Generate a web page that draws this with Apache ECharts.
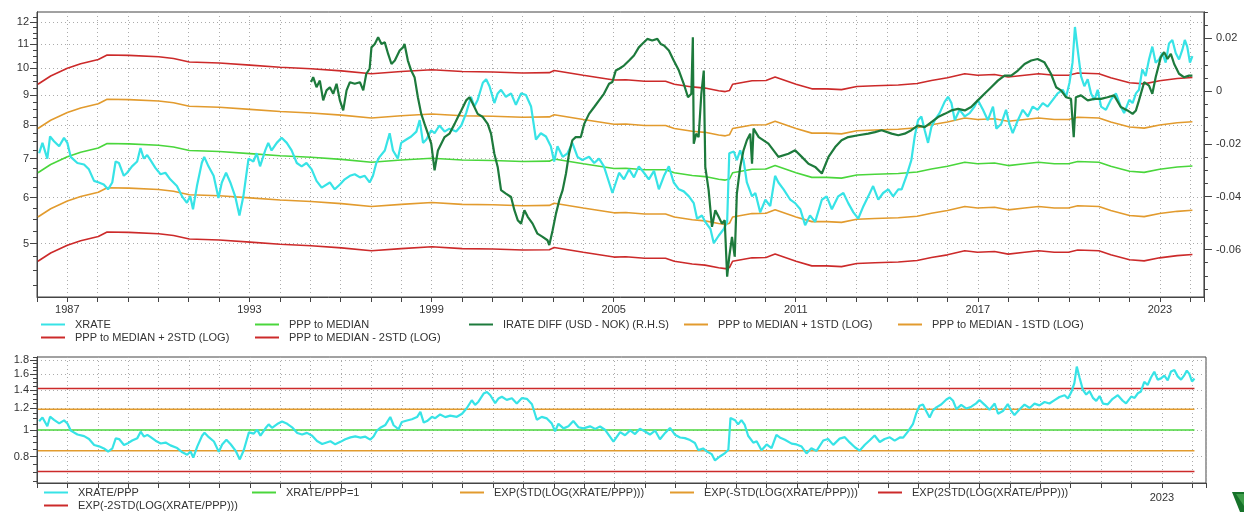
<!DOCTYPE html>
<html>
<head>
<meta charset="utf-8">
<script src="https://cdn.jsdelivr.net/npm/echarts@6/dist/echarts.min.js"></script>
<style>
  html, body { margin: 0; padding: 0; background: #fff; }
  #chart { width: 1244px; height: 512px; }
</style>
</head>
<body>
<div id="chart"></div>
<script>
// USD/NOK spot rate, [decimal year, NOK per USD]
const xrate = [
  [1986.07,7.15],[1986.18,7.45],[1986.34,7.0],[1986.43,7.64],[1986.56,7.5],[1986.73,7.35],[1986.89,7.6],[1987.0,7.45],
  [1987.11,7.05],[1987.33,6.88],[1987.55,6.84],[1987.71,6.71],[1987.88,6.41],[1988.04,6.37],[1988.2,6.32],[1988.34,6.2],
  [1988.48,6.37],[1988.59,6.92],[1988.7,6.88],[1988.86,6.54],[1988.97,6.62],[1989.13,6.79],[1989.3,6.92],[1989.41,7.3],
  [1989.52,7.0],[1989.63,7.1],[1989.74,6.96],[1989.9,6.75],[1990.07,6.58],[1990.23,6.62],[1990.39,6.45],[1990.61,6.28],
  [1990.78,6.03],[1990.94,5.88],[1991.05,6.03],[1991.14,5.73],[1991.27,6.28],[1991.43,6.88],[1991.51,7.05],[1991.65,6.79],
  [1991.82,6.54],[1991.98,5.99],[1992.09,6.37],[1992.23,6.62],[1992.37,6.37],[1992.53,6.03],[1992.67,5.59],[1992.8,6.03],
  [1992.97,7.0],[1993.13,6.92],[1993.24,7.15],[1993.35,6.79],[1993.52,7.23],[1993.62,7.45],[1993.73,7.23],[1993.9,7.45],
  [1994.06,7.6],[1994.23,7.45],[1994.39,7.23],[1994.56,6.88],[1994.72,6.79],[1994.88,6.88],[1995.05,6.71],[1995.21,6.41],
  [1995.38,6.24],[1995.65,6.37],[1995.81,6.2],[1995.98,6.32],[1996.14,6.45],[1996.31,6.54],[1996.47,6.58],[1996.64,6.5],
  [1996.8,6.54],[1996.96,6.37],[1997.07,6.54],[1997.18,6.88],[1997.29,7.05],[1997.46,7.23],[1997.62,7.74],[1997.73,7.23],
  [1997.89,7.0],[1998.0,7.45],[1998.17,7.55],[1998.33,7.64],[1998.5,7.79],[1998.61,8.15],[1998.72,7.45],[1998.83,7.55],
  [1998.99,7.83],[1999.1,7.74],[1999.26,7.98],[1999.43,7.79],[1999.59,7.88],[1999.81,7.79],[1999.98,7.98],[2000.14,8.38],
  [2000.3,8.94],[2000.41,8.6],[2000.52,8.83],[2000.69,9.45],[2000.8,9.58],[2000.91,9.32],[2001.07,8.72],[2001.18,9.06],
  [2001.29,9.19],[2001.45,8.94],[2001.62,9.06],[2001.78,8.66],[2001.95,9.06],[2002.11,9.0],[2002.28,8.6],[2002.44,7.55],
  [2002.6,7.74],[2002.77,7.64],[2002.93,7.35],[2003.04,6.92],[2003.15,7.35],[2003.32,7.05],[2003.48,7.15],[2003.64,7.45],
  [2003.81,7.05],[2003.97,6.96],[2004.19,7.05],[2004.36,6.88],[2004.52,7.0],[2004.68,6.79],[2004.85,6.37],[2004.96,6.11],
  [2005.18,6.62],[2005.34,6.45],[2005.51,6.71],[2005.67,6.5],[2005.83,6.79],[2006.0,6.62],[2006.16,6.45],[2006.33,6.67],
  [2006.49,6.2],[2006.66,6.54],[2006.82,6.79],[2006.98,6.37],[2007.15,6.2],[2007.31,6.15],[2007.48,6.03],[2007.64,5.87],
  [2007.75,5.52],[2007.91,5.59],[2008.02,5.45],[2008.19,5.3],[2008.3,5.01],[2008.46,5.16],[2008.63,5.3],[2008.74,5.45],
  [2008.81,7.15],[2008.96,7.2],[2009.06,6.96],[2009.17,7.23],[2009.28,6.96],[2009.39,6.37],[2009.56,6.03],[2009.67,6.11],
  [2009.83,5.66],[2010.0,5.95],[2010.16,5.8],[2010.32,6.54],[2010.43,6.37],[2010.6,6.2],[2010.82,5.95],[2010.98,5.87],
  [2011.15,5.73],[2011.31,5.38],[2011.47,5.59],[2011.64,5.45],[2011.86,5.95],[2012.02,6.03],[2012.19,5.73],[2012.4,6.03],
  [2012.57,6.11],[2012.73,5.87],[2012.9,5.66],[2013.06,5.52],[2013.23,5.8],[2013.39,6.03],[2013.55,6.28],[2013.72,5.95],
  [2013.88,6.11],[2014.05,6.2],[2014.21,6.03],[2014.38,6.2],[2014.49,6.2],[2014.65,6.54],[2014.81,6.96],[2014.92,7.64],
  [2015.03,8.15],[2015.14,8.27],[2015.25,7.83],[2015.36,7.45],[2015.47,7.93],[2015.58,8.15],[2015.74,8.38],[2015.91,8.77],
  [2016.02,8.94],[2016.13,8.72],[2016.24,8.15],[2016.4,8.49],[2016.57,8.27],[2016.73,8.38],[2016.89,8.6],[2017.0,8.83],
  [2017.17,8.49],[2017.33,8.15],[2017.5,8.6],[2017.61,7.88],[2017.77,8.03],[2017.93,8.49],[2018.04,8.03],[2018.15,7.74],
  [2018.32,8.15],[2018.48,8.49],[2018.65,8.27],[2018.81,8.6],[2018.97,8.49],[2019.14,8.72],[2019.3,8.6],[2019.47,8.83],
  [2019.63,9.06],[2019.8,9.19],[2019.91,8.94],[2020.02,9.45],[2020.12,10.23],[2020.2,11.78],[2020.29,10.77],[2020.4,9.7],
  [2020.51,9.32],[2020.62,9.58],[2020.73,9.06],[2020.84,8.83],[2020.95,9.19],[2021.06,8.6],[2021.22,8.49],[2021.38,8.83],
  [2021.55,9.06],[2021.71,8.6],[2021.82,8.38],[2021.99,8.83],[2022.1,8.72],[2022.21,9.06],[2022.31,9.19],[2022.42,9.96],
  [2022.53,9.7],[2022.64,10.36],[2022.75,10.9],[2022.86,10.23],[2022.97,10.36],[2023.08,10.63],[2023.19,10.23],[2023.3,11.04],
  [2023.41,11.19],[2023.52,10.63],[2023.63,10.36],[2023.74,10.77],[2023.82,11.19],[2023.9,10.9],[2023.99,10.23],[2024.07,10.5]
];

// PPP-implied rate (median), [decimal year, NOK per USD]
const ppp = [
  [1986.03,6.62],[1986.45,6.84],[1987.0,7.05],[1987.44,7.18],[1988.02,7.30],[1988.31,7.43],[1989.03,7.42],[1990.01,7.38],
  [1990.5,7.33],[1991.02,7.23],[1992.01,7.2],[1993.02,7.14],[1994.01,7.08],[1995.03,7.04],[1996.03,6.98],[1997.02,6.9],
  [1998.0,6.96],[1999.01,7.01],[2000.01,6.96],[2001.02,6.95],[2002.0,6.92],[2002.88,6.93],[2003.04,6.99],[2004.0,6.86],
  [2005.01,6.73],[2005.4,6.74],[2006.02,6.7],[2006.71,6.7],[2007.0,6.62],[2007.59,6.55],[2008.01,6.52],[2008.46,6.45],
  [2008.68,6.43],[2008.82,6.46],[2008.92,6.62],[2009.56,6.71],[2010.02,6.72],[2010.32,6.81],[2011.01,6.62],[2011.53,6.5],
  [2012.02,6.5],[2012.51,6.48],[2013.01,6.56],[2013.61,6.58],[2014.38,6.6],[2015.0,6.64],[2015.47,6.72],[2016.0,6.79],
  [2016.57,6.9],[2016.99,6.86],[2017.55,6.88],[2018.0,6.81],[2018.54,6.86],[2019.0,6.9],[2019.52,6.86],[2019.99,6.86],
  [2020.29,6.92],[2020.99,6.9],[2021.38,6.79],[2022.0,6.66],[2022.48,6.63],[2022.99,6.71],[2023.57,6.77],[2024.07,6.8]
];

// Short-rate differential USD minus NOK, [decimal year, fraction] (right-hand scale)
const irateDiff = [
  [1995.03,0.0034],[1995.1,0.0053],[1995.21,0.0015],[1995.32,0.004],[1995.43,-0.0035],[1995.54,0.0003],[1995.65,0.0015],
  [1995.76,-0.001],[1995.87,0.0028],[1995.98,-0.0035],[1996.09,-0.0073],[1996.2,0.0003],[1996.31,0.0034],[1996.47,0.0028],
  [1996.64,0.0034],[1996.75,0.0003],[1996.85,0.0066],[1996.96,0.0085],[1997.02,0.0166],[1997.13,0.0179],[1997.24,0.0204],
  [1997.35,0.0179],[1997.46,0.0185],[1997.57,0.0141],[1997.68,0.0103],[1997.79,0.0116],[1997.95,0.0154],[1998.06,0.0166],
  [1998.11,0.0179],[1998.22,0.0116],[1998.33,0.0078],[1998.44,0.0053],[1998.55,-0.0023],[1998.66,-0.0086],[1998.77,-0.0124],
  [1998.88,-0.0161],[1998.99,-0.0199],[1999.1,-0.030],[1999.21,-0.0225],[1999.32,-0.0199],[1999.43,-0.0174],[1999.59,-0.0161],
  [1999.76,-0.0124],[1999.87,-0.0098],[1999.98,-0.0073],[2000.14,-0.0035],[2000.25,-0.0023],[2000.36,-0.0048],[2000.52,-0.0086],
  [2000.69,-0.0098],[2000.85,-0.0124],[2000.96,-0.0161],[2001.07,-0.0237],[2001.18,-0.0287],[2001.29,-0.0375],[2001.45,-0.0388],
  [2001.62,-0.0401],[2001.73,-0.0451],[2001.84,-0.0489],[2001.95,-0.0502],[2002.06,-0.0451],[2002.17,-0.0476],[2002.33,-0.0502],
  [2002.49,-0.054],[2002.66,-0.0552],[2002.82,-0.0565],[2002.88,-0.0583],[2002.99,-0.0527],[2003.1,-0.0464],[2003.21,-0.0413],
  [2003.32,-0.0375],[2003.43,-0.0312],[2003.53,-0.0237],[2003.64,-0.0186],[2003.75,-0.0174],[2003.92,-0.0174],[2004.03,-0.0124],
  [2004.19,-0.0086],[2004.36,-0.006],[2004.52,-0.0035],[2004.68,-0.001],[2004.85,0.0028],[2004.96,0.0035],[2005.07,0.0078],
  [2005.18,0.0085],[2005.34,0.0097],[2005.51,0.0116],[2005.67,0.0135],[2005.83,0.0166],[2005.94,0.0179],[2006.11,0.0198],
  [2006.27,0.0192],[2006.44,0.0198],[2006.55,0.0179],[2006.66,0.0173],[2006.82,0.0154],[2006.98,0.0116],[2007.15,0.0078],
  [2007.31,0.0028],[2007.45,-0.0023],[2007.56,-0.001],[2007.61,0.0204],[2007.64,-0.0199],[2007.72,-0.0161],[2007.8,-0.0174],
  [2007.89,-0.001],[2007.97,0.0078],[2008.02,-0.0287],[2008.13,-0.0375],[2008.24,-0.0514],[2008.35,-0.0451],[2008.46,-0.0476],
  [2008.57,-0.0502],[2008.66,-0.0489],[2008.74,-0.0703],[2008.81,-0.0627],[2008.9,-0.0552],[2008.99,-0.0627],[2009.06,-0.0388],
  [2009.17,-0.0287],[2009.28,-0.0224],[2009.39,-0.0186],[2009.5,-0.0161],[2009.56,-0.0275],[2009.61,-0.0142],[2009.78,-0.0174],
  [2010.1,-0.0199],[2010.43,-0.0249],[2010.76,-0.0237],[2010.98,-0.0224],[2011.2,-0.0249],[2011.42,-0.0275],[2011.64,-0.0287],
  [2011.86,-0.0312],[2012.08,-0.0249],[2012.3,-0.0212],[2012.51,-0.0186],[2012.73,-0.0174],[2013.06,-0.0167],[2013.39,-0.0161],
  [2013.61,-0.0155],[2013.83,-0.0148],[2014.16,-0.0161],[2014.38,-0.0167],[2014.59,-0.0161],[2014.81,-0.0148],[2015.03,-0.013],
  [2015.25,-0.0136],[2015.47,-0.0117],[2015.69,-0.0098],[2015.91,-0.0086],[2016.13,-0.0073],[2016.35,-0.0067],[2016.57,-0.0073],
  [2016.78,-0.006],[2017.0,-0.0035],[2017.22,-0.001],[2017.44,0.0015],[2017.66,0.004],[2017.88,0.0059],[2018.1,0.0059],
  [2018.32,0.0078],[2018.54,0.0103],[2018.76,0.0116],[2018.97,0.0122],[2019.19,0.011],[2019.41,0.0066],[2019.58,0.0015],
  [2019.74,0.0003],[2019.91,-0.0023],[2020.07,-0.0029],[2020.16,-0.0174],[2020.23,-0.0023],[2020.4,-0.0016],[2020.62,-0.0035],
  [2020.84,-0.0029],[2021.06,-0.0029],[2021.27,-0.0023],[2021.49,-0.0016],[2021.71,-0.006],[2021.93,-0.0073],[2022.1,-0.0086],
  [2022.21,-0.0073],[2022.31,-0.0035],[2022.48,0.0034],[2022.64,0.0021],[2022.75,-0.001],[2022.86,0.0053],[2023.03,0.0129],
  [2023.14,0.0148],[2023.25,0.0122],[2023.36,0.0141],[2023.47,0.0103],[2023.63,0.0066],[2023.79,0.0053],[2023.96,0.0059],
  [2024.07,0.0059]
];

// Standard deviation of log(XRATE/PPP)
const logStd = 0.175;

// Axis labels and tick positions
const yearLabels = [1987, 1993, 1999, 2005, 2011, 2017, 2023];
const bottomYearLabels = [2023];
const rateLabels = [5, 6, 7, 8, 9, 10, 11, 12];
const rateMinorTicks = [4.25, 4.5, 4.75, 5.25, 5.5, 5.75, 6.25, 6.5, 6.75, 7.25, 7.5, 7.75, 8.25, 8.5, 8.75,
  9.25, 9.5, 9.75, 10.25, 10.5, 10.75, 11.25, 11.5, 11.75, 12.25];
const diffLabels = [-0.06, -0.04, -0.02, 0, 0.02];
const diffTicks = [-0.075, -0.07, -0.065, -0.06, -0.055, -0.05, -0.045, -0.04, -0.035, -0.03, -0.025, -0.02,
  -0.015, -0.01, -0.005, 0, 0.005, 0.01, 0.015, 0.02, 0.025, 0.03];
const ratioLabels = [0.8, 1, 1.2, 1.4, 1.6, 1.8];
const ratioMinorTicks = [0.65, 0.7, 0.75, 0.85, 0.9, 0.95, 1.05, 1.1, 1.15, 1.25, 1.3, 1.35, 1.45, 1.5, 1.55,
  1.65, 1.7, 1.75, 1.85];

const C = {
  xrate: '#37e3e6', ppp: '#4ad63c', irate: '#1d7a3c', std1: '#e29b2e', std2: '#cc2a2a',
  axis: '#444', grid: '#ababab', text: '#333'
};
const FONT = '"Liberation Sans", Arial, sans-serif';
const GRID_LINE = { color: C.grid, type: [1, 3], width: 1 };

// PPP value at a given date (linear between PPP observations), used for XRATE/PPP
function pppAt(t) {
  if (t <= ppp[0][0]) return ppp[0][1];
  for (let i = 1; i < ppp.length; i++) {
    if (t <= ppp[i][0]) {
      const [t0, v0] = ppp[i - 1], [t1, v1] = ppp[i];
      return v0 + (v1 - v0) * (t - t0) / (t1 - t0);
    }
  }
  return ppp[ppp.length - 1][1];
}

const band = k => ppp.map(([t, v]) => [t, v * Math.exp(k * logStd)]);
const ratio = xrate.map(([t, v]) => [t, v / pppAt(t)]);
const tStart = ppp[0][0], tEnd = xrate[xrate.length - 1][0];
const flat = c => [[tStart, c], [tEnd, c]];

function line(name, data, color, width, xi, yi) {
  return {
    name, type: 'line', data, xAxisIndex: xi, yAxisIndex: yi,
    showSymbol: false, symbol: 'none', silent: true, animation: false,
    itemStyle: { color }, lineStyle: { color, width }
  };
}

const fmtNum = v => String(parseFloat(Number(v).toFixed(3)));

function xAxisCfg(gridIndex, labels, margin) {
  return {
    type: 'value', gridIndex, min: 1986, max: 2024.45, interval: 1,
    axisLine: { show: true, onZero: false, lineStyle: { color: C.axis } },
    axisTick: { show: true, length: 5, lineStyle: { color: C.axis } },
    splitLine: { show: true, lineStyle: GRID_LINE },
    axisLabel: {
      show: true, margin, color: C.text, fontSize: 11, fontFamily: FONT,
      formatter: v => labels.indexOf(Math.round(v * 1000) / 1000) >= 0 ? String(v) : ''
    }
  };
}

function yAxisCfg(o) {
  const cfg = {
    type: o.type, gridIndex: o.grid, position: o.pos, min: o.min, max: o.max,
    axisLine: { show: true, onZero: false, lineStyle: { color: C.axis } },
    axisTick: { show: true, length: o.tickLen, customValues: o.ticks, lineStyle: { color: C.axis } },
    axisLabel: o.labels ? {
      show: true, customValues: o.labels, margin: o.margin, color: C.text, fontSize: 11, fontFamily: FONT,
      formatter: fmtNum
    } : { show: false },
    splitLine: o.split ? { show: true, lineStyle: GRID_LINE } : { show: false }
  };
  if (o.type === 'log') cfg.logBase = 10;
  return cfg;
}

const legendItems = [
  ['XRATE', 41, 319], ['PPP to MEDIAN', 255, 319], ['IRATE DIFF (USD - NOK) (R.H.S)', 469, 319],
  ['PPP to MEDIAN + 1STD (LOG)', 684, 319], ['PPP to MEDIAN - 1STD (LOG)', 898, 319],
  ['PPP to MEDIAN + 2STD (LOG)', 41, 332], ['PPP to MEDIAN - 2STD (LOG)', 255, 332],
  ['XRATE/PPP', 44, 487], ['XRATE/PPP=1', 252, 487], ['EXP(STD(LOG(XRATE/PPP)))', 460, 487],
  ['EXP(-STD(LOG(XRATE/PPP)))', 670, 487], ['EXP(2STD(LOG(XRATE/PPP)))', 878, 487],
  ['EXP(-2STD(LOG(XRATE/PPP)))', 44, 500]
];

const option = {
  backgroundColor: '#fff',
  animation: false,
  textStyle: { fontFamily: FONT },
  grid: [
    { left: 37, top: 12, width: 1169, height: 285, show: true, borderColor: C.axis, borderWidth: 1, containLabel: false },
    { left: 37, top: 357, width: 1169, height: 126, show: true, borderColor: C.axis, borderWidth: 1, containLabel: false }
  ],
  xAxis: [xAxisCfg(0, yearLabels, 7), xAxisCfg(1, bottomYearLabels, 9)],
  yAxis: [
    yAxisCfg({ type: 'log', grid: 0, pos: 'left', min: 4.05, max: 12.5, ticks: rateLabels, tickLen: 7, labels: rateLabels, margin: 8, split: true }),
    yAxisCfg({ type: 'log', grid: 0, pos: 'left', min: 4.05, max: 12.5, ticks: rateMinorTicks, tickLen: 4 }),
    yAxisCfg({ type: 'value', grid: 0, pos: 'right', min: -0.078, max: 0.03, ticks: diffTicks, tickLen: 4, labels: diffLabels, margin: 12 }),
    yAxisCfg({ type: 'value', grid: 0, pos: 'right', min: -0.078, max: 0.03, ticks: diffLabels, tickLen: 8 }),
    yAxisCfg({ type: 'log', grid: 1, pos: 'left', min: 0.64, max: 1.85, ticks: ratioLabels, tickLen: 7, labels: ratioLabels, margin: 8, split: true }),
    yAxisCfg({ type: 'log', grid: 1, pos: 'left', min: 0.64, max: 1.85, ticks: ratioMinorTicks, tickLen: 4 })
  ],
  legend: legendItems.map(([name, left, top]) => ({
    data: [name], left, top, padding: 0, itemWidth: 24, itemHeight: 2, icon: 'rect',
    selectedMode: false, textStyle: { color: C.text, fontSize: 11, fontFamily: FONT, padding: [0, 0, 0, 5] }
  })),
  series: [
    line('PPP to MEDIAN + 2STD (LOG)', band(2), C.std2, 1.6, 0, 0),
    line('PPP to MEDIAN - 2STD (LOG)', band(-2), C.std2, 1.6, 0, 0),
    line('PPP to MEDIAN + 1STD (LOG)', band(1), C.std1, 1.6, 0, 0),
    line('PPP to MEDIAN - 1STD (LOG)', band(-1), C.std1, 1.6, 0, 0),
    line('PPP to MEDIAN', ppp, C.ppp, 1.6, 0, 0),
    line('XRATE', xrate, C.xrate, 2.2, 0, 0),
    line('IRATE DIFF (USD - NOK) (R.H.S)', irateDiff, C.irate, 2.2, 0, 2),
    line('EXP(2STD(LOG(XRATE/PPP)))', flat(Math.exp(2 * logStd)), C.std2, 1.6, 1, 4),
    line('EXP(-2STD(LOG(XRATE/PPP)))', flat(Math.exp(-2 * logStd)), C.std2, 1.6, 1, 4),
    line('EXP(STD(LOG(XRATE/PPP)))', flat(Math.exp(logStd)), C.std1, 1.6, 1, 4),
    line('EXP(-STD(LOG(XRATE/PPP)))', flat(Math.exp(-logStd)), C.std1, 1.6, 1, 4),
    line('XRATE/PPP=1', flat(1), C.ppp, 1.6, 1, 4),
    line('XRATE/PPP', ratio, C.xrate, 2.2, 1, 4)
  ],
  graphic: [
    { type: 'polygon', shape: { points: [[1232, 492], [1244, 492], [1244, 512], [1240, 512]] }, style: { fill: '#16722a' } },
    { type: 'polygon', shape: { points: [[1236, 494], [1244, 494], [1244, 506]] }, style: { fill: '#3f9e4a' } }
  ]
};

const chart = echarts.init(document.getElementById('chart'), null, { renderer: 'canvas' });
chart.setOption(option);
</script>
</body>
</html>
